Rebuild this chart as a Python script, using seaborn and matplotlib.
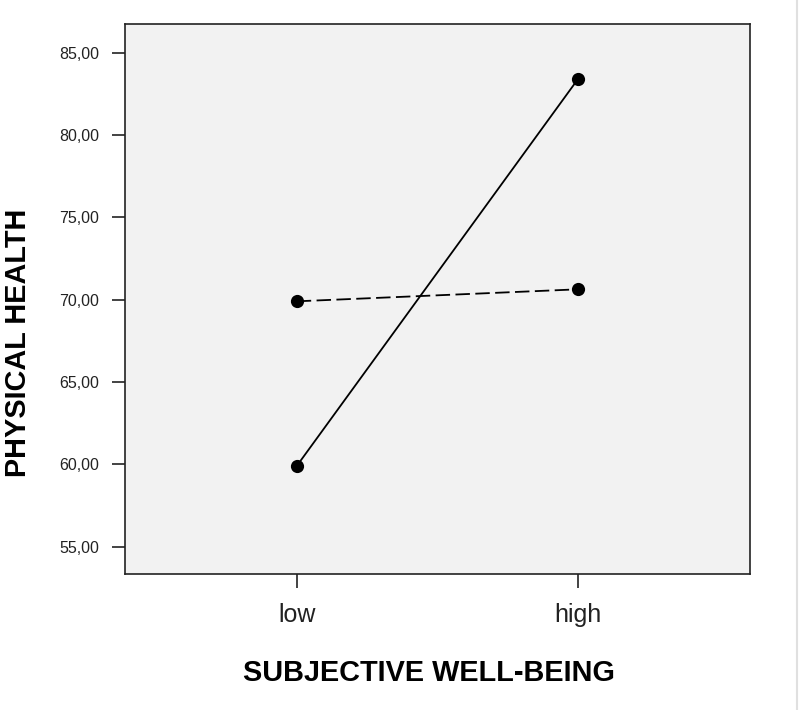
import pandas as pd
import matplotlib.pyplot as plt
import seaborn as sns
from matplotlib.lines import Line2D

# Valores
niveles = ['low', 'high']
grupo_solido = [59.90, 83.42]
grupo_discontinuo = [69.90, 70.63]
etiquetas_y = ['55,00', '60,00', '65,00', '70,00', '75,00', '80,00', '85,00']
valores_y = [55, 60, 65, 70, 75, 80, 85]

df = pd.DataFrame({
    'wellbeing': niveles * 2,
    'health': grupo_solido + grupo_discontinuo,
    'grupo': ['a'] * 2 + ['b'] * 2,
})

sns.set_style('white')
plt.rcParams['font.family'] = ['Liberation Sans', 'DejaVu Sans']

fig = plt.figure(figsize=(8, 7.1), dpi=100)
ax = fig.add_axes([0.15625, 0.1915, 0.78125, 0.774])
ax.set_facecolor('#f2f2f2')

sns.lineplot(data=df, x='wellbeing', y='health', style='grupo',
             dashes={'a': '', 'b': (8, 3)}, markers={'a': 'o', 'b': 'o'},
             color='black', linewidth=1.3, markersize=9.5,
             markeredgewidth=0, legend=False, ax=ax)

ax.set_xlim(-0.61, 1.61)
ax.set_ylim(53.34, 86.71)
ax.set_yticks(valores_y)
ax.set_yticklabels(etiquetas_y)

for lado in ax.spines.values():
    lado.set_color('#222222')
    lado.set_linewidth(1.2)

ax.tick_params(axis='y', direction='out', length=9.5, width=1.2, pad=9,
               labelsize=11.5, colors='#222222', left=True)
ax.tick_params(axis='x', direction='out', length=10, width=1.2, pad=11,
               labelsize=18, colors='#222222', bottom=True)

ax.set_xlabel('')
ax.set_ylabel('')
fig.text(0.536, 0.052, 'SUBJECTIVE WELL-BEING', ha='center', va='center',
         fontsize=20.8, fontweight='bold', color='black')
fig.text(0.022, 0.517, 'PHYSICAL HEALTH', ha='center', va='center',
         rotation=90, fontsize=20.8, fontweight='bold', color='black')

# línea gris fina del borde derecho
fig.add_artist(Line2D([0.996, 0.996], [0, 1], color='#e0e0e0', linewidth=1.5,
                      transform=fig.transFigure))

plt.savefig('out.png', dpi=100)
plt.close()
